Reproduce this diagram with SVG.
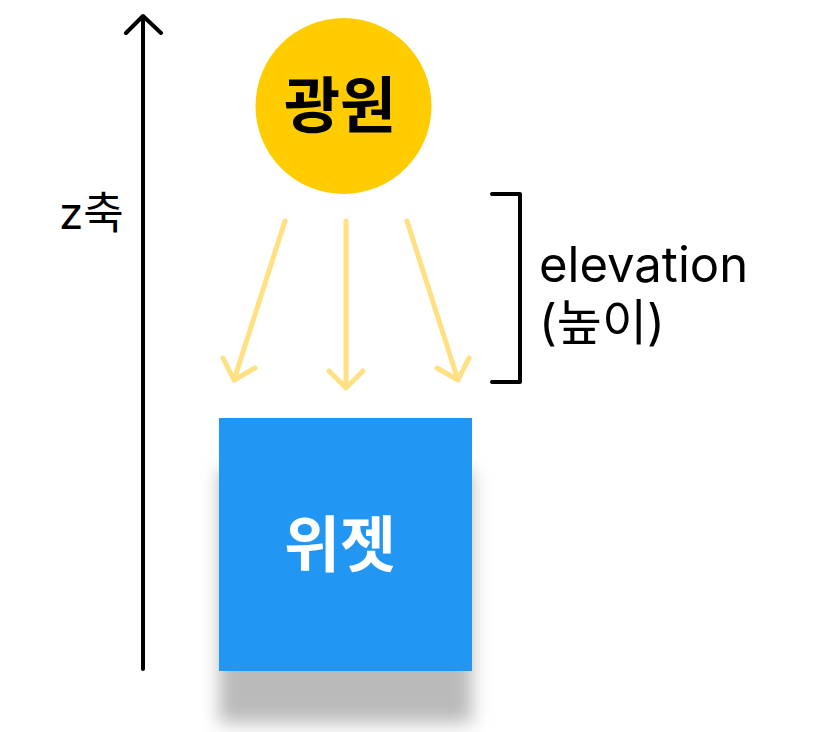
<svg xmlns="http://www.w3.org/2000/svg" width="831" height="732" viewBox="0 0 831 732">
<style>
.ax{stroke:#000;stroke-width:4;fill:none;stroke-linecap:round;stroke-linejoin:round}
.ray{stroke:#FFE082;stroke-width:5;fill:none;stroke-linecap:round;stroke-linejoin:round}
.lbl{font-family:Inter,"Noto Sans CJK KR",sans-serif;fill:#000}
.big{font-family:"Noto Sans CJK KR",sans-serif;font-weight:700;font-size:61px;text-anchor:middle}
</style>
<defs>
<filter id="sh" x="-30%" y="-30%" width="160%" height="190%">
<feDropShadow dx="0" dy="52" stdDeviation="9" flood-color="#000" flood-opacity="0.27"/>
</filter>
</defs>
<rect width="831" height="732" fill="#fff"/>
<g id="axis">
<path class="ax" d="M143 669 V17 M126 33 L143 16 L161 33"/>
<text class="lbl" x="59" y="229" font-size="44">z축</text>
</g>
<g id="light">
<circle cx="343.5" cy="106" r="88" fill="#FFCC00"/>
<text class="big" x="340" y="128" fill="#000">광원</text>
</g>
<g id="connectors">
<path class="ray" d="M285 221 L234 380 M223 358 L234 380 L255 368"/>
<path class="ray" d="M346 221 V387 M329 371 L346 388 L363 371"/>
<path class="ray" d="M407 221 L458 380 M437 368 L458 380 L469 358"/>
</g>
<g id="elevation">
<path class="ax" d="M492 194 H520 V382 H492" stroke-linecap="butt" stroke-linejoin="miter"/>
<text class="lbl" x="539" y="282" font-size="49">elevation</text>
<text class="lbl" x="539" y="340" font-size="49">(높이)</text>
</g>
<g id="widget">
<rect x="219" y="418" width="253" height="253" fill="#2196F3" filter="url(#sh)"/>
<text class="big" x="340" y="567" fill="#fff">위젯</text>
</g>
</svg>
